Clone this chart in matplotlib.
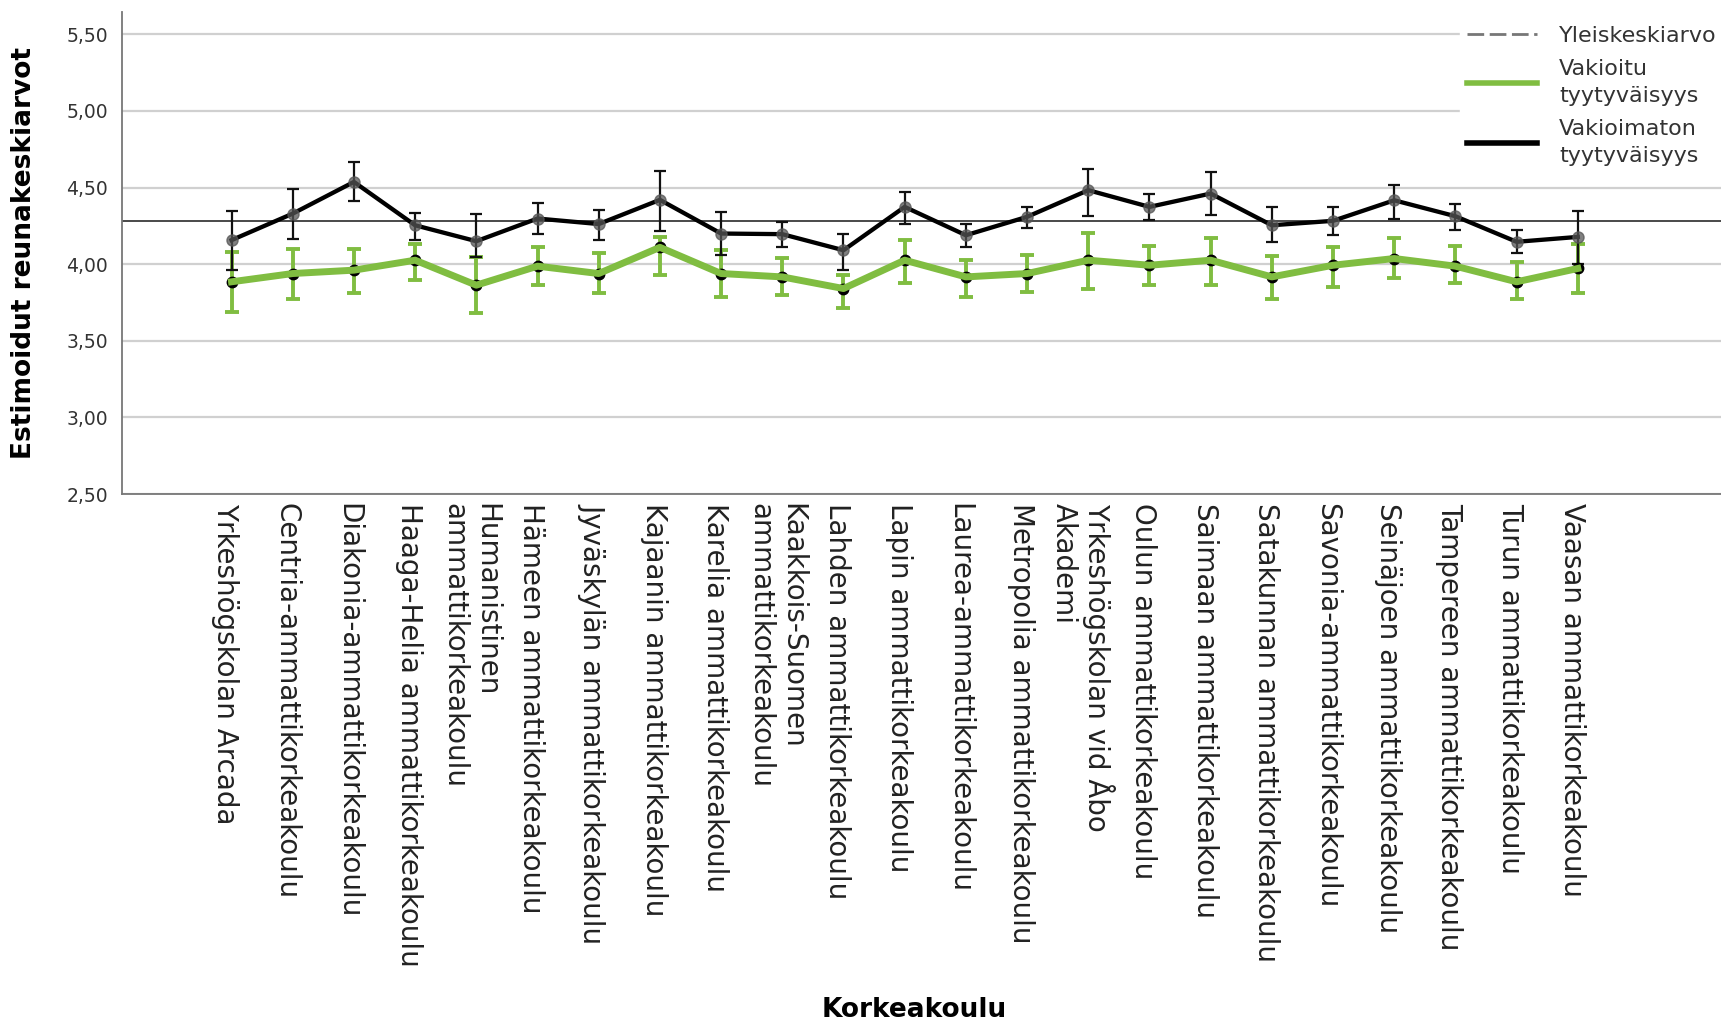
import numpy as np
import matplotlib
matplotlib.use("Agg")
import matplotlib.pyplot as plt
from matplotlib.lines import Line2D
from matplotlib.ticker import FuncFormatter

schools = [
    "Yrkeshögskolan Arcada",
    "Centria-ammattikorkeakoulu",
    "Diakonia-ammattikorkeakoulu",
    "Haaga-Helia ammattikorkeakoulu",
    "Humanistinen\nammattikorkeakoulu",
    "Hämeen ammattikorkeakoulu",
    "Jyväskylän ammattikorkeakoulu",
    "Kajaanin ammattikorkeakoulu",
    "Karelia ammattikorkeakoulu",
    "Kaakkois-Suomen\nammattikorkeakoulu",
    "Lahden ammattikorkeakoulu",
    "Lapin ammattikorkeakoulu",
    "Laurea-ammattikorkeakoulu",
    "Metropolia ammattikorkeakoulu",
    "Yrkeshögskolan vid Åbo\nAkademi",
    "Oulun ammattikorkeakoulu",
    "Saimaan ammattikorkeakoulu",
    "Satakunnan ammattikorkeakoulu",
    "Savonia-ammattikorkeakoulu",
    "Seinäjoen ammattikorkeakoulu",
    "Tampereen ammattikorkeakoulu",
    "Turun ammattikorkeakoulu",
    "Vaasan ammattikorkeakoulu",
]

# Vakioitu tyytyväisyys (adjusted) with CI ends
adj_mean = [3.885, 3.939, 3.961, 4.026, 3.863, 3.987, 3.939, 4.110, 3.939, 3.917, 3.841, 4.026,
            3.917, 3.939, 4.026, 3.993, 4.026, 3.917, 3.993, 4.037, 3.987, 3.885, 3.972]
adj_low = [3.685, 3.776, 3.813, 3.896, 3.683, 3.863, 3.809, 3.930, 3.787, 3.798, 3.711, 3.878,
           3.787, 3.820, 3.841, 3.863, 3.863, 3.776, 3.852, 3.907, 3.874, 3.776, 3.809]
adj_high = [4.080, 4.100, 4.102, 4.135, 4.048, 4.113, 4.070, 4.180, 4.091, 4.043, 3.928, 4.157,
            4.030, 4.059, 4.204, 4.117, 4.174, 4.052, 4.109, 4.174, 4.117, 4.015, 4.135]

# Vakioimaton tyytyväisyys (unadjusted) with CI ends
raw_mean = [4.157, 4.330, 4.537, 4.254, 4.150, 4.298, 4.262, 4.420, 4.200, 4.196, 4.091, 4.374,
            4.189, 4.309, 4.483, 4.374, 4.461, 4.254, 4.283, 4.417, 4.313, 4.146, 4.178]
raw_low = [3.961, 4.163, 4.411, 4.157, 4.045, 4.200, 4.161, 4.219, 4.059, 4.109, 3.965, 4.265,
           4.113, 4.239, 4.313, 4.287, 4.320, 4.146, 4.189, 4.298, 4.226, 4.070, 4.004]
raw_high = [4.348, 4.493, 4.665, 4.335, 4.325, 4.400, 4.352, 4.606, 4.341, 4.276, 4.196, 4.472,
            4.265, 4.374, 4.624, 4.461, 4.602, 4.370, 4.374, 4.520, 4.396, 4.222, 4.346]

grand_mean = 4.28

x = np.arange(len(schools))
adj_mean = np.array(adj_mean)
raw_mean = np.array(raw_mean)
adj_err = [adj_mean - np.array(adj_low), np.array(adj_high) - adj_mean]
raw_err = [raw_mean - np.array(raw_low), np.array(raw_high) - raw_mean]

green = "#80bd41"

fig = plt.figure(figsize=(17.21, 10.27), dpi=100)
ax = fig.add_axes([122 / 1721, 1 - 494 / 1027, 1 - 122 / 1721, (494 - 12) / 1027])

ax.errorbar(x, adj_mean, yerr=adj_err, fmt="none", ecolor=green, elinewidth=2.8,
            capsize=5, capthick=2.8, zorder=2)
ax.axhline(grand_mean, color="#3a3a3a", lw=1.3, zorder=2.5)
ax.errorbar(x, raw_mean, yerr=raw_err, fmt="none", ecolor="#111111", elinewidth=1.6,
            capsize=4, capthick=1.6, zorder=3)
ax.plot(x, raw_mean, color="black", lw=3.1, zorder=3)
ax.plot(x, raw_mean, "o", color="#555555", ms=8, alpha=0.75, zorder=3.5)
ax.plot(x, adj_mean, "o", color="black", ms=7.5, zorder=3.6)
ax.plot(x, adj_mean, color=green, lw=5, zorder=4)

ax.set_xlim(-1.79, 24.34)
ax.set_ylim(2.5, 5.646)
ax.set_yticks(np.arange(2.5, 5.51, 0.5))
ax.yaxis.set_major_formatter(FuncFormatter(lambda v, p: f"{v:.2f}".replace(".", ",")))
# tick marks are hidden; labels sit a little left of each point like in SPSS output
ax.set_xticks(x - 0.1)
ax.set_xticklabels(schools, rotation=-90, ha="center", va="top", multialignment="left")

ax.yaxis.grid(True, color="#d0d0d0", lw=1.6)
ax.set_axisbelow(True)
for s in ["top", "right"]:
    ax.spines[s].set_visible(False)
for s in ["left", "bottom"]:
    ax.spines[s].set_color("#777777")
    ax.spines[s].set_linewidth(1.3)
ax.tick_params(axis="both", length=0)
ax.tick_params(axis="x", pad=6.5, labelsize=20, labelcolor="#222222")
ax.tick_params(axis="y", pad=10, labelsize=13.5, labelcolor="#333333")

handles = [
    Line2D([], [], color="#777777", lw=2, dashes=(6, 2)),
    Line2D([], [], color=green, lw=4),
    Line2D([], [], color="black", lw=4),
]
labels = ["Yleiskeskiarvo", "Vakioitu\ntyytyväisyys", "Vakioimaton\ntyytyväisyys"]
leg = ax.legend(handles, labels, loc="upper left", bbox_to_anchor=(1460 / 1721, 1 - 19 / 1027),
                bbox_transform=fig.transFigure, frameon=True, fancybox=False,
                edgecolor="white", facecolor="white", framealpha=1, borderpad=0.3,
                borderaxespad=0, handlelength=3.15, handletextpad=1.0, labelspacing=0.6,
                fontsize=16)
for t in leg.get_texts():
    t.set_color("#333333")
    t.set_linespacing(1.43)

fig.text(24 / 1721, 1 - 253 / 1027, "Estimoidut reunakeskiarvot", rotation=90,
         ha="center", va="center", fontsize=19, fontweight="bold")
fig.text(0.531, 1 - 1010 / 1027, "Korkeakoulu", ha="center", va="center",
         fontsize=19, fontweight="bold")

fig.savefig("out.png", dpi=100)
